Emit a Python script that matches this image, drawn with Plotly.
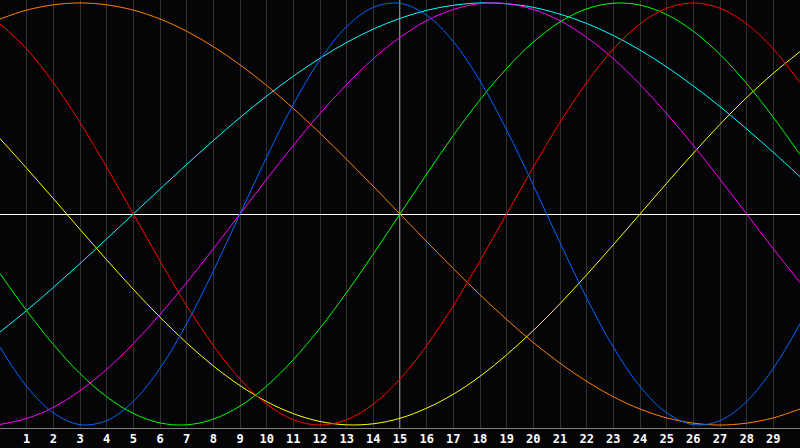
import plotly.graph_objects as go

# Days shown on the chart (x positions), tick labels 1..29
days = list(range(0, 31))
tick_days = list(range(1, 30))
tick_labels = [str(d) for d in tick_days]
today = 15

# Curve values at each day (range -1..1)
blue = [-0.631, -0.817, -0.942, -0.998, -0.979, -0.888, -0.731, -0.520, -0.270, 0.0,
        0.270, 0.520, 0.731, 0.888, 0.979, 0.998, 0.942, 0.817, 0.631, 0.398,
        0.136, -0.136, -0.398, -0.631, -0.817, -0.942, -0.998, -0.979, -0.888, -0.731, -0.520]
red = [0.901, 0.782, 0.623, 0.434, 0.222, 0.0, -0.222, -0.434, -0.623, -0.782,
       -0.901, -0.975, -1.0, -0.975, -0.901, -0.782, -0.623, -0.434, -0.222, 0.0,
       0.222, 0.434, 0.623, 0.782, 0.901, 0.975, 1.0, 0.975, 0.901, 0.782, 0.623]
green = [-0.282, -0.458, -0.618, -0.756, -0.866, -0.945, -0.990, -0.999, -0.972, -0.910,
         -0.815, -0.690, -0.541, -0.372, -0.189, 0.0, 0.189, 0.372, 0.541, 0.690,
         0.815, 0.910, 0.972, 0.999, 0.990, 0.945, 0.866, 0.756, 0.618, 0.458, 0.282]
magenta = [-0.997, -0.969, -0.916, -0.837, -0.736, -0.614, -0.476, -0.325, -0.165, 0.0,
           0.165, 0.325, 0.476, 0.614, 0.736, 0.837, 0.916, 0.969, 0.997, 0.997,
           0.969, 0.916, 0.837, 0.736, 0.614, 0.476, 0.325, 0.165, 0.0, -0.165, -0.325]
yellow = [0.357, 0.217, 0.073, -0.073, -0.217, -0.357, -0.489, -0.611, -0.720, -0.813,
          -0.889, -0.946, -0.983, -0.999, -0.994, -0.968, -0.920, -0.854, -0.769, -0.667,
          -0.552, -0.425, -0.288, -0.146, 0.0, 0.146, 0.288, 0.425, 0.552, 0.667, 0.769]
orange = [0.924, 0.966, 0.991, 1.0, 0.991, 0.966, 0.924, 0.866, 0.793, 0.707,
          0.609, 0.5, 0.383, 0.259, 0.131, 0.0, -0.131, -0.259, -0.383, -0.5,
          -0.609, -0.707, -0.793, -0.866, -0.924, -0.966, -0.991, -1.0, -0.991, -0.966, -0.924]
cyan = [-0.559, -0.457, -0.348, -0.235, -0.118, 0.0, 0.118, 0.235, 0.348, 0.457,
        0.559, 0.653, 0.738, 0.813, 0.876, 0.927, 0.965, 0.989, 1.0, 0.996,
        0.979, 0.947, 0.903, 0.846, 0.777, 0.697, 0.607, 0.509, 0.403, 0.292, 0.177]

series = [
    ("Awareness", orange, "#ff8000"),
    ("Spiritual", cyan, "#00ffff"),
    ("Aesthetic", yellow, "#ffff00"),
    ("Intuitive", magenta, "#ff00ff"),
    ("Intellectual", green, "#00ff00"),
    ("Emotional", red, "#ff0000"),
    ("Physical", blue, "#0066ff"),
]

fig = go.Figure()
for name, vals, col in series:
    fig.add_trace(go.Scatter(
        x=days, y=vals, mode="lines", name=name,
        line=dict(color=col, width=1, shape="spline", smoothing=1.0),
        hoverinfo="skip",
    ))

fig.add_shape(type="line", xref="x", yref="paper", x0=today, x1=today, y0=0, y1=1,
              line=dict(color="#ffffff", width=1), layer="below")

fig.update_layout(
    width=800, height=448,
    margin=dict(l=0, r=0, t=0, b=20),
    paper_bgcolor="#050507",
    plot_bgcolor="#050507",
    showlegend=False,
)
fig.update_xaxes(
    range=[0, 30], tickmode="array", tickvals=tick_days, ticktext=tick_labels,
    showgrid=True, gridcolor="#303030", gridwidth=1,
    showline=True, linecolor="#808080", linewidth=1, mirror=True,
    ticks="", zeroline=False,
    tickfont=dict(family="DejaVu Sans Mono", size=12, color="#ffffff", weight="bold"),
)
fig.update_yaxes(
    range=[-1.014, 1.014], showgrid=False, showticklabels=False, ticks="",
    zeroline=True, zerolinecolor="#ffffff", zerolinewidth=1,
    showline=True, linecolor="#808080", linewidth=1, mirror=True,
)

fig.write_html(
    "out.html",
    include_plotlyjs=True,
    config={"displayModeBar": False, "staticPlot": True},
    post_script="document.body.style.margin='0';document.body.style.background='#050507';",
)
